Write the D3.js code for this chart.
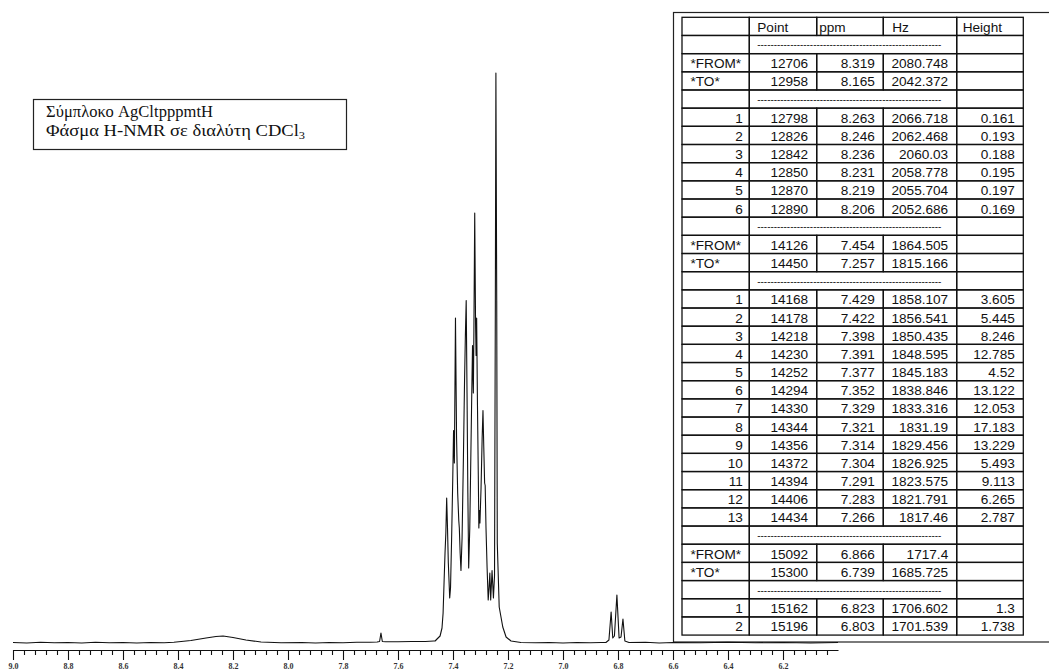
<!DOCTYPE html>
<html>
<head>
<meta charset="utf-8">
<script src="https://cdn.jsdelivr.net/npm/d3@7"></script>
<style>
  body { margin: 0; background: #fff; }
  svg { display: block; }
</style>
</head>
<body>
<svg id="chart" width="1049" height="671"></svg>
<script>
"use strict";

// ---- DATA ----

// spectrum trace: chemical shift (ppm) and intensity (same units as "Height" column)
const spectrumPpm = [
    9.00, 8.95, 8.90, 8.85, 8.80, 8.75, 8.70, 8.65, 8.60, 8.55, 8.50, 8.45,
    8.415, 8.353, 8.298, 8.262, 8.236, 8.200, 8.153, 8.098, 8.025,
    7.95, 7.90, 7.85, 7.80, 7.75, 7.70, 7.676, 7.667, 7.662, 7.657, 7.645,
    7.60, 7.55, 7.50, 7.47,
    7.465, 7.458, 7.447, 7.440, 7.436, 7.432, 7.429, 7.426, 7.423, 7.420, 7.417, 7.412,
    7.409, 7.405, 7.401, 7.398, 7.395, 7.391, 7.387, 7.383, 7.379, 7.377, 7.374, 7.371,
    7.367, 7.362, 7.358, 7.355, 7.352, 7.349, 7.346, 7.343, 7.339, 7.336, 7.332, 7.329,
    7.326, 7.324, 7.321, 7.318, 7.316, 7.314, 7.311, 7.308, 7.306, 7.304, 7.302, 7.298,
    7.294, 7.291, 7.288, 7.285, 7.283, 7.280, 7.276, 7.272, 7.269, 7.266, 7.263, 7.258,
    7.253, 7.249, 7.246, 7.244, 7.241, 7.239, 7.232, 7.219, 7.207, 7.189, 7.153,
    7.10, 7.05, 7.00, 6.95, 6.90, 6.86,
    6.844, 6.833, 6.825, 6.819, 6.813, 6.804, 6.796, 6.789, 6.782, 6.775, 6.760,
    6.70, 6.65, 6.60, 6.50, 6.40, 6.30, 6.20, 6.10, 6.00
];
const spectrumIntensity = [
    0.02, 0.00, 0.03, 0.01, 0.02, 0.00, 0.03, 0.01, 0.02, 0.00, 0.02, 0.01,
    0.03, 0.10, 0.20, 0.26, 0.28, 0.22, 0.12, 0.04, 0.01,
    0.02, 0.00, 0.02, 0.01, 0.03, 0.03, 0.04, 0.06, 0.40, 0.06, 0.05,
    0.05, 0.06, 0.06, 0.08,
    0.08, 0.16, 0.28, 0.60, 1.20, 2.60, 3.60, 4.40, 5.80, 4.60, 3.20, 1.80,
    2.20, 4.20, 6.50, 8.50, 7.20, 13.0, 8.20, 6.00, 4.90, 4.60, 3.60, 2.90,
    4.20, 7.50, 10.5, 12.3, 13.7, 10.0, 6.00, 3.00, 4.60, 6.80, 9.80, 11.9,
    10.0, 12.5, 17.2, 12.8, 11.5, 13.0, 9.50, 6.70, 4.60, 5.30, 4.80, 6.20,
    8.20, 9.30, 7.80, 6.40, 6.30, 4.60, 3.00, 1.72, 2.20, 2.80, 1.72, 2.90,
    1.80, 2.70, 13.7, 22.8, 13.7, 4.00, 1.44, 0.64, 0.24, 0.08, 0.02,
    0.01, 0.02, 0.00, 0.02, 0.01, 0.02,
    0.02, 0.12, 1.24, 0.20, 0.28, 1.92, 0.20, 0.24, 0.96, 0.08, 0.02,
    0.03, 0.00, 0.02, 0.01, 0.03, 0.01, 0.02, 0.00, 0.02
];

// axis tick labels
const majorTicks = [9.0, 8.8, 8.6, 8.4, 8.2, 8.0, 7.8, 7.6, 7.4, 7.2, 7.0, 6.8, 6.6, 6.4, 6.2];

// sample label
const labelLines = ["Σύμπλοκο AgCltpppmtH", "Φάσμα H-NMR σε διαλύτη CDCl"];
const labelSub = "3";

// peak table
const tableColumns = ["", "Point", "ppm", "Hz", "Height"];
const range1 = [["*FROM*", 12706, 8.319, 2080.748, ""], ["*TO*", 12958, 8.165, 2042.372, ""]];
const peaks1 = [
    [1, 12798, 8.263, 2066.718, 0.161],
    [2, 12826, 8.246, 2062.468, 0.193],
    [3, 12842, 8.236, 2060.03, 0.188],
    [4, 12850, 8.231, 2058.778, 0.195],
    [5, 12870, 8.219, 2055.704, 0.197],
    [6, 12890, 8.206, 2052.686, 0.169]
];
const range2 = [["*FROM*", 14126, 7.454, 1864.505, ""], ["*TO*", 14450, 7.257, 1815.166, ""]];
const peaks2 = [
    [1, 14168, 7.429, 1858.107, 3.605],
    [2, 14178, 7.422, 1856.541, 5.445],
    [3, 14218, 7.398, 1850.435, 8.246],
    [4, 14230, 7.391, 1848.595, 12.785],
    [5, 14252, 7.377, 1845.183, 4.52],
    [6, 14294, 7.352, 1838.846, 13.122],
    [7, 14330, 7.329, 1833.316, 12.053],
    [8, 14344, 7.321, 1831.19, 17.183],
    [9, 14356, 7.314, 1829.456, 13.229],
    [10, 14372, 7.304, 1826.925, 5.493],
    [11, 14394, 7.291, 1823.575, 9.113],
    [12, 14406, 7.283, 1821.791, 6.265],
    [13, 14434, 7.266, 1817.46, 2.787]
];
const range3 = [["*FROM*", 15092, 6.866, 1717.4, ""], ["*TO*", 15300, 6.739, 1685.725, ""]];
const peaks3 = [
    [1, 15162, 6.823, 1706.602, 1.3],
    [2, 15196, 6.803, 1701.539, 1.738]
];

// ---- LAYOUT ----
const svg = d3.select("#chart");
const axisY = 650;
const x = d3.scaleLinear().domain([9.0, 6.0]).range([13, 838]);
const y = d3.scaleLinear().domain([0, 23]).range([643, 68]);

const colEdges = [682, 749.3, 816.7, 883.3, 956.7, 1023.3];
const tableTop = 17.3;
const rowH = 18.17;
const sansFont = "'Liberation Sans', Arial, sans-serif";
const serifFont = "'Liberation Serif', 'Times New Roman', serif";

// Draw the frame round the peak table
function drawTableFrame() {
    svg.append("rect")
        .attr("x", 673.5)
        .attr("y", 12.5)
        .attr("width", 420)
        .attr("height", 629.5)
        .attr("fill", "#fff")
        .attr("stroke", "#222")
        .attr("stroke-width", 1.2);
}

// Draw the ppm axis: labelled major ticks and small minor ticks
function drawAxes() {
    let minorTicks = d3.range(0, 75).map(function (i) { return +(9.0 - i * 0.04).toFixed(2) })
        .filter(function (v) { return Math.round(v * 100) % 20 !== 0 });

    let minorAxis = svg.append("g")
        .attr("transform", "translate(0," + axisY + ")")
        .call(d3.axisBottom(x).tickValues(minorTicks).tickSize(5).tickSizeOuter(0).tickFormat(""));

    let majorAxis = svg.append("g")
        .attr("transform", "translate(0," + axisY + ")")
        .call(d3.axisBottom(x).tickValues(majorTicks).tickSize(10).tickSizeOuter(0)
            .tickFormat(d3.format(".1f")));

    svg.selectAll(".domain").attr("stroke", "#111").attr("stroke-width", 1.2);
    svg.selectAll(".tick line").attr("stroke", "#111").attr("stroke-width", 1.1);
    majorAxis.selectAll("text")
        .attr("font-family", serifFont)
        .attr("font-size", 8)
        .attr("font-weight", "bold")
        .attr("fill", "#333");
    minorAxis.select(".domain").remove();
}

// Draw the spectrum line
function drawSpectrum() {
    let points = spectrumPpm.map(function (p, i) { return { ppm: p, value: spectrumIntensity[i] } });
    svg.append("path")
        .datum(points)
        .attr("fill", "none")
        .attr("stroke", "#111")
        .attr("stroke-width", 1.1)
        .attr("stroke-linejoin", "round")
        .attr("d", d3.line()
            .x(function (d) { return x(d.ppm) })
            .y(function (d) { return y(d.value) })
        );
}

// Draw the sample label box
function drawLabel() {
    svg.append("rect")
        .attr("x", 33.5)
        .attr("y", 99.5)
        .attr("width", 313)
        .attr("height", 50)
        .attr("fill", "#fff")
        .attr("stroke", "#222")
        .attr("stroke-width", 1.2);
    svg.append("text")
        .attr("x", 46)
        .attr("y", 117)
        .attr("font-family", serifFont)
        .attr("font-size", 16.5)
        .attr("fill", "#111")
        .attr("textLength", 167)
        .attr("lengthAdjust", "spacing")
        .text(labelLines[0]);
    let line2 = svg.append("text")
        .attr("x", 46)
        .attr("y", 136)
        .attr("font-family", serifFont)
        .attr("font-size", 16.5)
        .attr("fill", "#111")
        .attr("textLength", 259)
        .attr("lengthAdjust", "spacingAndGlyphs")
        .text(labelLines[1]);
    line2.append("tspan")
        .attr("dy", 3)
        .attr("font-size", 11)
        .text(labelSub);
}

// Draw the peak table row by row
function drawTable() {
    let rows = [{ type: "header", cells: tableColumns }, { type: "dash" }];
    function addBlock(rangeRows, peakRows) {
        rangeRows.forEach(function (r) { rows.push({ type: "range", cells: r }) });
        rows.push({ type: "dash" });
        peakRows.forEach(function (r) { rows.push({ type: "peak", cells: r }) });
    }
    addBlock(range1, peaks1);
    rows.push({ type: "dash" });
    addBlock(range2, peaks2);
    rows.push({ type: "dash" });
    addBlock(range3, peaks3);

    let headerPad = [0, 8, 2.5, 9, 6];
    let g = svg.append("g");

    rows.forEach(function (row, i) {
        let top = tableTop + i * rowH;
        let base = top + 14.5;
        // cell boxes
        let spans = row.type === "dash" ? [[0, 1], [1, 4], [4, 5]] : [[0, 1], [1, 2], [2, 3], [3, 4], [4, 5]];
        spans.forEach(function (s) {
            g.append("rect")
                .attr("x", colEdges[s[0]])
                .attr("y", top)
                .attr("width", colEdges[s[1]] - colEdges[s[0]])
                .attr("height", rowH)
                .attr("fill", "none")
                .attr("stroke", "#111")
                .attr("stroke-width", 1.3);
        });
        if (row.type === "dash") {
            g.append("text")
                .attr("x", 757.3)
                .attr("y", base - 1.5)
                .attr("font-family", sansFont)
                .attr("font-size", 10)
                .attr("fill", "#222")
                .attr("textLength", 184)
                .attr("lengthAdjust", "spacingAndGlyphs")
                .text("-".repeat(56));
            return;
        }
        row.cells.forEach(function (c, j) {
            if (c === "") return;
            let t = g.append("text")
                .attr("y", base)
                .attr("font-family", sansFont)
                .attr("font-size", 13.6)
                .attr("fill", "#111")
                .text(String(c));
            if (row.type === "header") {
                t.attr("x", colEdges[j] + headerPad[j]);
            } else if (j === 0 && row.type === "range") {
                t.attr("x", colEdges[0] + 8.5);
            } else {
                t.attr("x", colEdges[j + 1] - (j === 0 ? 6.5 : 8.5)).attr("text-anchor", "end");
            }
        });
    });
}

drawTableFrame();
drawSpectrum();
drawAxes();
drawLabel();
drawTable();
</script>
</body>
</html>
